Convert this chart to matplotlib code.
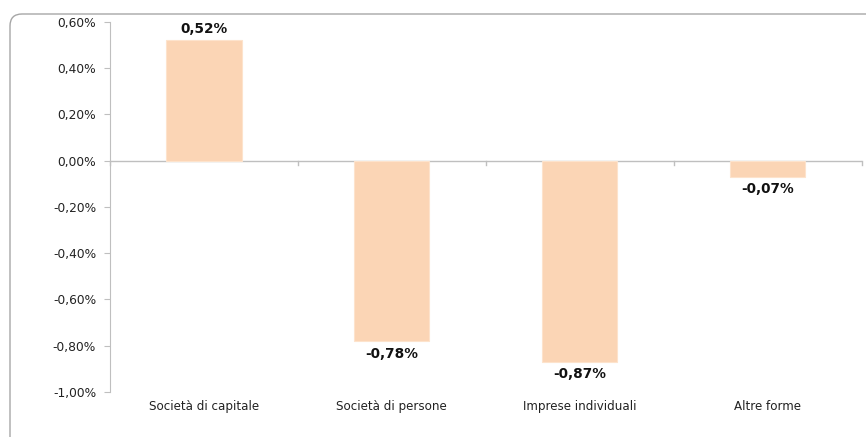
import matplotlib.pyplot as plt
from matplotlib.patches import FancyBboxPatch
from matplotlib.transforms import IdentityTransform

categories = ["Società di capitale", "Società di persone", "Imprese individuali", "Altre forme"]
values = [0.52, -0.78, -0.87, -0.07]
yticks = [0.6, 0.4, 0.2, 0.0, -0.2, -0.4, -0.6, -0.8, -1.0]


def pct(v):
    return f"{v:.2f}%".replace(".", ",")


fig = plt.figure(figsize=(8.66, 4.37), dpi=100)
ax = fig.add_axes([0.127, 0.103, 0.868, 0.847])

# rounded outer frame (pixel coords), cut off on the right and bottom like the original
frame = FancyBboxPatch((10, -40), 900, 437 - 14 + 40,
                       boxstyle="round,pad=0,rounding_size=12",
                       transform=IdentityTransform(), facecolor="none",
                       edgecolor="#a6a6a6", linewidth=1.0, clip_on=False)
fig.patches.append(frame)

x = range(len(categories))
ax.bar(x, values, width=0.4, color="#fbd5b5", edgecolor="#fde3cc", linewidth=0.8, zorder=2)

for i, v in enumerate(values):
    if v >= 0:
        ax.annotate(pct(v), (i, v), xytext=(0, 3), textcoords="offset points",
                    ha="center", va="bottom", fontsize=9.8, fontweight="bold", color="#111111")
    else:
        ax.annotate(pct(v), (i, v), xytext=(0, -4), textcoords="offset points",
                    ha="center", va="top", fontsize=9.8, fontweight="bold", color="#111111")

ax.set_xlim(-0.5, len(categories) - 0.5)
ax.set_ylim(-1.0, 0.6)
ax.set_yticks(yticks)
ax.set_yticklabels([pct(t) for t in yticks], fontsize=8.8, color="#222222")

# zero line with category separators
ax.axhline(0, color="#bfbfbf", linewidth=1.0, zorder=1)
for b in range(len(categories) + 1):
    ax.plot([b - 0.5, b - 0.5], [0, -0.02], color="#bfbfbf", linewidth=1.0, clip_on=False)

ax.set_xticks(list(x))
ax.set_xticklabels(categories, fontsize=8.6, color="#222222")
ax.tick_params(axis="x", length=0, pad=6)
ax.tick_params(axis="y", length=4, color="#bfbfbf", pad=6)

for s in ["top", "right", "bottom"]:
    ax.spines[s].set_visible(False)
ax.spines["left"].set_color("#bfbfbf")

fig.savefig("out.png", dpi=100)
